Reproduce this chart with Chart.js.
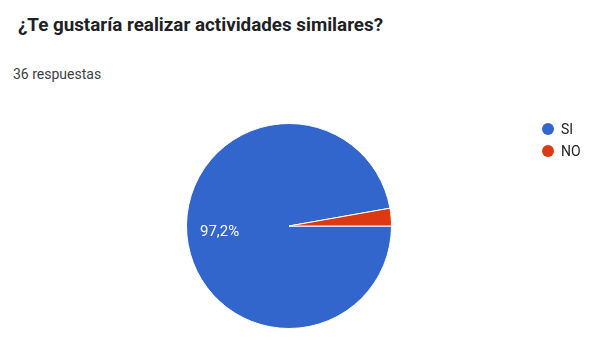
<!DOCTYPE html>
<html>
<head>
<meta charset="utf-8">
<script src="https://cdn.jsdelivr.net/npm/chart.js@4"></script>
<style>
  html, body { margin: 0; padding: 0; background: #fff; }
  body { width: 597px; height: 357px; position: relative; overflow: hidden; font-family: Roboto, Arial, sans-serif; }
  #title { position: absolute; left: 18px; top: 14px; font-size: 18.8px; font-weight: 700; color: #202124; }
  #sub { position: absolute; left: 13px; top: 66px; font-size: 14px; color: #3c4043; }
  #wrap { position: absolute; left: 0; top: 0; width: 597px; height: 357px; }
</style>
</head>
<body>
<div id="title">¿Te gustaría realizar actividades similares?</div>
<div id="sub">36 respuestas</div>
<div id="wrap"><canvas id="chart-pie"></canvas></div>
<script>
const categories = ['SI', 'NO'];
const counts = [35, 1];
const colors = ['#3366cc', '#dc3912'];

// porcentajes dentro de las porciones grandes
const sliceLabels = {
  id: 'sliceLabels',
  afterDatasetsDraw(chart) {
    const { ctx } = chart;
    const meta = chart.getDatasetMeta(0);
    const total = counts.reduce((a, b) => a + b, 0);
    ctx.save();
    ctx.font = '15px Roboto, Arial, sans-serif';
    ctx.fillStyle = '#ffffff';
    ctx.textAlign = 'center';
    ctx.textBaseline = 'middle';
    meta.data.forEach((arc, i) => {
      const pct = counts[i] / total * 100;
      if (pct < 5) return;
      const { x, y, startAngle, endAngle, outerRadius } = arc.getProps(['x', 'y', 'startAngle', 'endAngle', 'outerRadius'], true);
      const mid = (startAngle + endAngle) / 2;
      const r = outerRadius * 0.68;
      ctx.fillText(pct.toFixed(1).replace('.', ',') + '%', x + Math.cos(mid) * r, y + Math.sin(mid) * r);
    });
    ctx.restore();
  }
};

// leyenda a la derecha
const sideLegend = {
  id: 'sideLegend',
  afterDraw(chart) {
    const { ctx } = chart;
    ctx.save();
    ctx.font = '14px Roboto, Arial, sans-serif';
    ctx.textBaseline = 'middle';
    categories.forEach((label, i) => {
      const y = 129 + i * 22;
      ctx.fillStyle = colors[i];
      ctx.beginPath();
      ctx.arc(548, y, 6, 0, Math.PI * 2);
      ctx.fill();
      ctx.fillStyle = '#222222';
      ctx.fillText(label, 561, y + 1);
    });
    ctx.restore();
  }
};

new Chart(document.getElementById('chart-pie'), {
  type: 'pie',
  data: {
    labels: categories,
    datasets: [{
      data: counts,
      backgroundColor: colors,
      borderColor: '#ffffff',
      borderWidth: 1
    }]
  },
  options: {
    responsive: true,
    maintainAspectRatio: false,
    animation: false,
    rotation: 90,
    layout: { padding: { left: 186, right: 205, top: 123, bottom: 28 } },
    plugins: {
      legend: { display: false },
      tooltip: { enabled: false }
    }
  },
  plugins: [sliceLabels, sideLegend]
});
</script>
</body>
</html>
